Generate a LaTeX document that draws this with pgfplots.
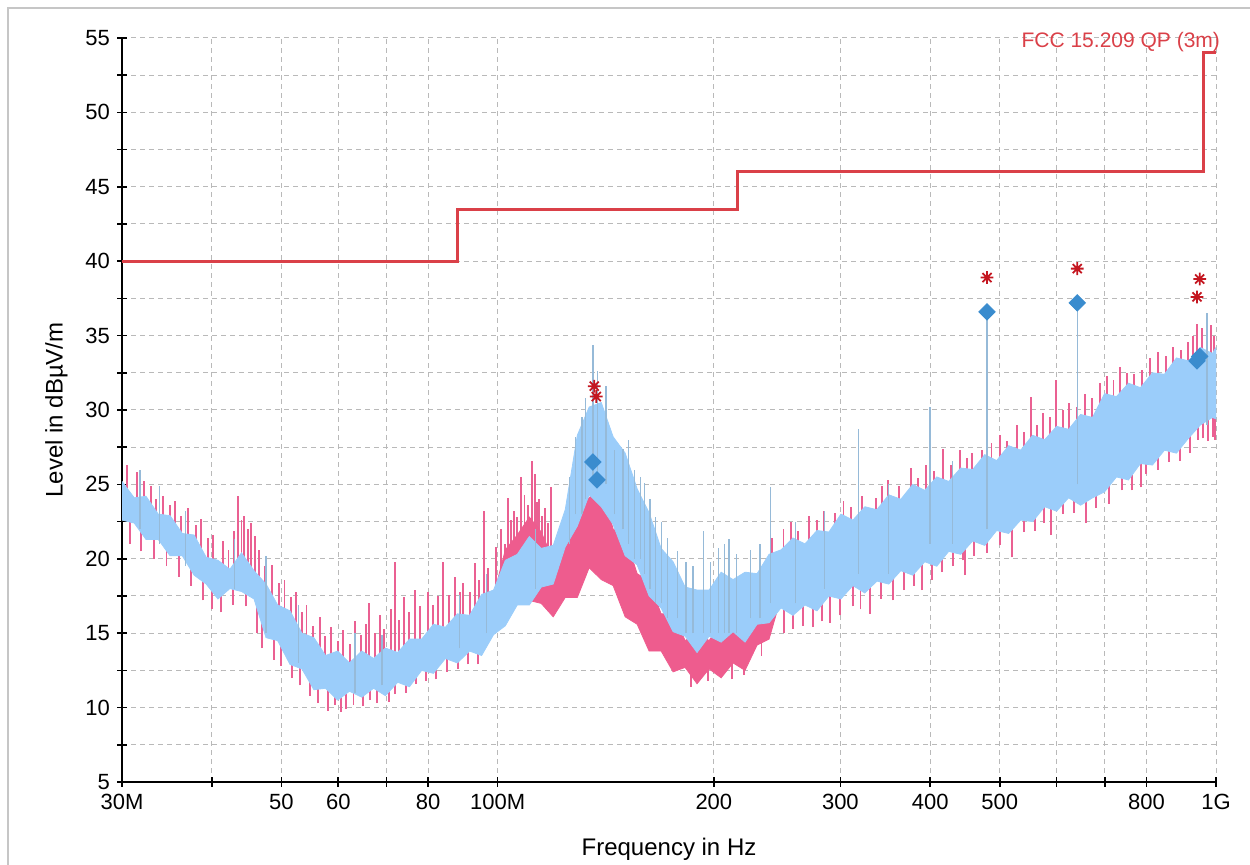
\documentclass[border=0pt]{standalone}
\usepackage{fontspec}
\setmainfont{Liberation Sans}
\usepackage{pgfplots}
\pgfplotsset{compat=1.18}
\usepackage{pgfplotstable}

\definecolor{pinkc}{RGB}{238,92,142}
\definecolor{pinks}{RGB}{234,96,146}
\definecolor{bluec}{RGB}{155,205,250}
\definecolor{blues}{RGB}{150,186,216}
\definecolor{diac}{RGB}{58,140,206}
\definecolor{astc}{RGB}{196,22,32}
\definecolor{limc}{RGB}{218,64,72}
\definecolor{gridc}{RGB}{185,185,185}

% eight-armed asterisk for the QP readings
\pgfdeclareplotmark{ast8}{%
  \pgfpathmoveto{\pgfqpoint{-\pgfplotmarksize}{0pt}}\pgfpathlineto{\pgfqpoint{\pgfplotmarksize}{0pt}}%
  \pgfpathmoveto{\pgfqpoint{0pt}{-\pgfplotmarksize}}\pgfpathlineto{\pgfqpoint{0pt}{\pgfplotmarksize}}%
  \pgfpathmoveto{\pgfqpoint{-.707\pgfplotmarksize}{-.707\pgfplotmarksize}}\pgfpathlineto{\pgfqpoint{.707\pgfplotmarksize}{.707\pgfplotmarksize}}%
  \pgfpathmoveto{\pgfqpoint{-.707\pgfplotmarksize}{.707\pgfplotmarksize}}\pgfpathlineto{\pgfqpoint{.707\pgfplotmarksize}{-.707\pgfplotmarksize}}%
  \pgfusepathqstroke}

% pink scan where it stands apart from the blue one (95-245 MHz):
% upper envelope left to right, then lower envelope back
\pgfplotstableread{
f L
95 17.0
98.7 17.5
102.5 20.6
106.5 21.6
110.7 22.8
115 21.8
119.5 19.9
124.2 21.0
129.1 23.5
134.1 24.1
139.4 25.0
144.8 22.0
150.5 21.5
156.4 19.0
162.5 18.5
168.9 16.3
175.5 16.3
182.4 14.5
189.5 15.0
197 14.5
204.7 15.7
212.7 15.1
221 16.5
229.7 16.7
238.7 18.0
245 17.0
245 16.5
238.7 14.6
229.7 14.2
221 12.5
212.7 13.0
204.7 12.0
197 12.6
189.5 11.6
182.4 12.7
175.5 12.4
168.9 13.8
162.5 13.8
156.4 15.6
150.5 16.1
144.8 18.2
139.4 18.6
134.1 19.4
129.1 17.4
124.2 17.4
119.5 16.1
115 17.0
110.7 17.2
106.5 17.0
102.5 16.0
98.7 15.2
95 14.0
}\pinkband

% blue scan: upper envelope left to right, then lower envelope back
\pgfplotstableread{
f L
30 25.2
31.2 24.1
32.4 24.2
33.7 23.0
35 22.9
36.4 21.7
37.8 21.6
39.3 20.1
40.8 19.9
42.4 19.3
44 20.4
45.8 19.2
47.6 18.3
49.4 16.9
51.4 16.5
53.4 15.0
55.5 14.7
57.6 13.5
59.9 13.8
62.2 13.0
64.7 13.8
67.2 13.3
69.8 14.0
72.6 13.7
75.4 14.6
78.4 14.6
81.4 15.6
84.6 15.4
87.9 16.3
91.4 16.2
95 17.6
98.7 17.9
102.5 19.9
106.5 20.3
110.7 21.5
115 20.7
119.5 20.9
124.2 23.3
129.1 28.3
134.1 30.2
139.4 30.5
144.8 28.2
150.5 27.1
156.4 24.7
162.5 23.1
168.9 20.7
175.5 19.8
182.4 18.1
189.5 17.9
197 17.9
204.7 19.1
212.7 18.6
221 19.1
229.7 19.0
238.7 20.3
248 20.6
257.7 21.4
267.8 21.0
278.3 21.9
289.2 21.8
300.5 23.0
312.3 22.6
324.5 23.5
337.2 23.3
350.4 24.3
364.1 24.0
378.4 25.0
393.2 24.6
408.6 25.5
424.6 25.2
441.2 26.1
458.5 26.0
476.5 27.0
495.1 26.6
514.5 27.6
534.7 27.3
555.6 28.3
577.4 28.0
600 28.9
623.5 28.7
647.9 29.7
673.3 29.5
699.6 31.1
727 30.9
755.5 31.8
785.1 31.5
815.8 32.5
847.8 32.4
881 33.5
915.5 33.3
951.3 34.2
988.6 33.8
1000 34.2
1000 29.4
988.6 29.5
951.3 29.0
915.5 28.1
881 27.1
847.8 27.3
815.8 26.3
785.1 26.4
755.5 25.3
727 25.5
699.6 24.5
673.3 24.1
647.9 23.6
623.5 24.1
600 23.2
577.4 23.5
555.6 22.5
534.7 22.6
514.5 21.7
495.1 21.9
476.5 20.9
458.5 21.2
441.2 20.3
424.6 20.5
408.6 19.5
393.2 19.8
378.4 18.9
364.1 19.2
350.4 18.3
337.2 18.5
324.5 17.7
312.3 18.2
300.5 17.3
289.2 17.5
278.3 16.5
267.8 16.9
257.7 16.2
248 16.7
238.7 15.7
229.7 15.6
221 14.4
212.7 15.1
204.7 14.4
197 14.8
189.5 13.7
182.4 14.8
175.5 15.1
168.9 16.7
162.5 17.5
156.4 19.6
150.5 20.2
144.8 22.3
139.4 23.5
134.1 24.3
129.1 22.2
124.2 20.8
119.5 18.3
115 18.1
110.7 16.9
106.5 16.9
102.5 15.5
98.7 14.9
95 13.5
91.4 13.8
87.9 13.0
84.6 13.3
81.4 12.3
78.4 12.5
75.4 11.4
72.6 11.7
69.8 10.8
67.2 11.3
64.7 10.7
62.2 11.1
59.9 10.5
57.6 11.3
55.5 11.2
53.4 12.6
51.4 12.9
49.4 14.5
47.6 14.7
45.8 17.3
44 17.8
42.4 18.0
40.8 17.3
39.3 18.3
37.8 18.9
36.4 20.2
35 20.2
33.7 21.3
32.4 21.3
31.2 22.4
30 22.6
}\blueband

% single spikes of the pink scan: foot, tip, break
\pgfplotstableread{
f L
30.5 24
30.5 26.3
30.5 nan
30.8 21.0
30.8 23
30.8 nan
31.5 23
31.5 25.8
31.5 nan
31.9 20.5
31.9 22.5
31.9 nan
32.2 23
32.2 25.2
32.2 nan
32.9 22
32.9 24.9
32.9 nan
33.2 20.0
33.2 22
33.2 nan
33.5 22
33.5 24.0
33.5 nan
34.2 21.5
34.2 24.2
34.2 nan
34.6 19.5
34.6 21.5
34.6 nan
35.0 21.5
35.0 23.6
35.0 nan
35.6 21
35.6 23.9
35.6 nan
36.0 18.8
36.0 21
36.0 nan
36.2 21
36.2 22.9
36.2 nan
37.1 20
37.1 23.4
37.1 nan
37.4 18.2
37.4 20
37.4 nan
38.0 20
38.0 22.3
38.0 nan
38.6 19
38.6 22.7
38.6 nan
38.9 17.2
38.9 19
38.9 nan
39.5 19
39.5 21.4
39.5 nan
40.0 16.6
40.0 18
40.0 nan
40.2 18.5
40.2 21.6
40.2 nan
41.2 16.4
41.2 18
41.2 nan
41.5 18.5
41.5 21.2
41.5 nan
42.2 18.5
42.2 20.6
42.2 nan
42.8 16.9
42.8 18.5
42.8 nan
43.0 19
43.0 21.9
43.0 nan
43.5 19
43.5 24.2
43.5 nan
44.0 19
44.0 22.6
44.0 nan
44.4 19
44.4 22.9
44.4 nan
44.6 16.8
44.6 18.5
44.6 nan
44.9 19
44.9 22.0
44.9 nan
45.3 18.5
45.3 22.4
45.3 nan
45.9 18
45.9 21.5
45.9 nan
46.2 15.0
46.2 17
46.2 nan
46.6 17
46.6 20.6
46.6 nan
47.0 14.0
47.0 16
47.0 nan
47.4 16.5
47.4 19.5
47.4 nan
48.5 16
48.5 19.6
48.5 nan
48.8 13.2
48.8 15
48.8 nan
49.6 15.5
49.6 18.4
49.6 nan
50.0 12.8
50.0 14.5
50.0 nan
50.5 15
50.5 18.6
50.5 nan
51.5 15
51.5 17.4
51.5 nan
51.8 12.0
51.8 13.5
51.8 nan
52.4 14
52.4 17.8
52.4 nan
53.0 11.5
53.0 13
53.0 nan
53.4 14
53.4 16.4
53.4 nan
54.2 13.5
54.2 16.9
54.2 nan
54.8 10.8
54.8 12.5
54.8 nan
55.4 13
55.4 15.5
55.4 nan
56.2 10.3
56.2 12
56.2 nan
56.6 12.5
56.6 16.1
56.6 nan
57.5 12.5
57.5 14.8
57.5 nan
58.0 9.8
58.0 11.5
58.0 nan
58.7 12.5
58.7 15.4
58.7 nan
59.3 10.2
59.3 11.5
59.3 nan
60.0 12.5
60.0 14.5
60.0 nan
60.6 9.7
60.6 11.5
60.6 nan
61.0 12
61.0 15.2
61.0 nan
61.5 9.9
61.5 11.5
61.5 nan
62.3 12
62.3 14.3
62.3 nan
63.0 10.2
63.0 11.5
63.0 nan
63.3 12
63.3 15.8
63.3 nan
64.5 12
64.5 14.9
64.5 nan
65.0 10.1
65.0 11.5
65.0 nan
65.5 12
65.5 15.6
65.5 nan
66.3 12
66.3 17.0
66.3 nan
66.5 10.5
66.5 12
66.5 nan
67.5 12
67.5 15.0
67.5 nan
68.0 10.3
68.0 12
68.0 nan
68.5 12
68.5 16.2
68.5 nan
69.5 12.5
69.5 15.3
69.5 nan
70.5 10.4
70.5 12
70.5 nan
71.0 12.5
71.0 16.6
71.0 nan
71.9 12.5
71.9 19.8
71.9 nan
72.0 10.9
72.0 12.5
72.0 nan
73.0 13
73.0 15.9
73.0 nan
74.0 13
74.0 17.4
74.0 nan
74.5 11.0
74.5 12.5
74.5 nan
75.3 13
75.3 16.4
75.3 nan
76.8 13.5
76.8 17.9
76.8 nan
77.0 11.6
77.0 13
77.0 nan
78.0 13.5
78.0 16.8
78.0 nan
79.5 11.8
79.5 13
79.5 nan
80.0 14
80.0 17.8
80.0 nan
81.2 14
81.2 16.9
81.2 nan
82.0 11.9
82.0 13.5
82.0 nan
82.5 14
82.5 17.5
82.5 nan
83.9 14
83.9 19.8
83.9 nan
85.0 12.4
85.0 14
85.0 nan
85.5 14.5
85.5 17.6
85.5 nan
87.3 15
87.3 18.8
87.3 nan
88.0 12.6
88.0 14
88.0 nan
88.6 15
88.6 17.8
88.6 nan
89.6 15
89.6 18.4
89.6 nan
91.0 12.9
91.0 14.5
91.0 nan
91.5 15
91.5 17.8
91.5 nan
93.0 15.5
93.0 19.7
93.0 nan
94.0 12.9
94.0 14.5
94.0 nan
94.3 16
94.3 18.6
94.3 nan
95.6 16
95.6 23.2
95.6 nan
97.0 16.5
97.0 19.4
97.0 nan
99.5 17
99.5 20.8
99.5 nan
101.2 18
101.2 22.0
101.2 nan
102.5 18
102.5 21.0
102.5 nan
103.5 18
103.5 24.1
103.5 nan
104.3 19
104.3 22.6
104.3 nan
105.3 19
105.3 23.2
105.3 nan
106.5 19
106.5 22.8
106.5 nan
107.8 19
107.8 25.5
107.8 nan
109.0 19
109.0 24.3
109.0 nan
110.2 19
110.2 23.6
110.2 nan
111.6 19
111.6 26.6
111.6 nan
112.6 19
112.6 25.7
112.6 nan
113.5 19
113.5 23.8
113.5 nan
114.2 19
114.2 24.0
114.2 nan
115.3 19
115.3 22.9
115.3 nan
116.5 19
116.5 23.4
116.5 nan
117.5 19
117.5 22.4
117.5 nan
118.5 19
118.5 24.8
118.5 nan
186 11.4
186 13.5
186 nan
196 11.8
196 13.5
196 nan
212 11.9
212 13.5
212 nan
220 12.2
220 14.0
220 nan
233 13.5
233 15.5
233 nan
241 19.0
241 21.4
241 nan
250 19.5
250 22.0
250 nan
250.5 15.0
250.5 17
250.5 nan
256 20
256 22.5
256 nan
258 15.3
258 17
258 nan
262 20
262 21.9
262 nan
266 15.5
266 17
266 nan
271 20
271 22.9
271 nan
275 15.4
275 17
275 nan
278 20.5
278 22.6
278 nan
283 15.8
283 17.5
283 nan
285 20.5
285 23.2
285 nan
290 15.7
290 17.5
290 nan
295 21
295 23.1
295 nan
300 16.2
300 18
300 nan
303 21.5
303 23.9
303 nan
310 21.5
310 23.5
310 nan
312 16.8
312 18.5
312 nan
320 16.6
320 18.5
320 nan
322 22
322 24.2
322 nan
330 16.3
330 18.5
330 nan
336 22
336 24.1
336 nan
342 17.3
342 19
342 nan
343 22.5
343 24.9
343 nan
350 23
350 25.3
350 nan
355 17.2
355 19
355 nan
362 23
362 24.9
362 nan
368 17.9
368 19.5
368 nan
376 23.5
376 26.1
376 nan
380 18.2
380 19.5
380 nan
385 23.5
385 25.4
385 nan
390 17.9
390 20
390 nan
395 23.5
395 26.3
395 nan
402 18.6
402 20
402 nan
405 24
405 25.9
405 nan
415 19.1
415 20.5
415 nan
417 24
417 27.4
417 nan
428 24
428 26.3
428 nan
430 19.5
430 21
430 nan
440 24.5
440 27.3
440 nan
444 19.9
444 21
444 nan
447 18.9
447 21
447 nan
450 25
450 26.8
450 nan
458 25
458 27.1
458 nan
460 20.2
460 21.5
460 nan
472 25.5
472 27.3
472 nan
480 20.4
480 22
480 nan
487 25.5
487 27.8
487 nan
500 26
500 28.3
500 nan
501 20.9
501 22.5
501 nan
512 26
512 27.9
512 nan
520 20.1
520 22.5
520 nan
528 26.5
528 29.0
528 nan
540 26.5
540 28.5
540 nan
541 21.8
541 23
541 nan
552 27
552 30.9
552 nan
560 21.9
560 23.5
560 nan
563 27
563 29.0
563 nan
575 27
575 29.8
575 nan
576 22.4
576 24
576 nan
587 27.5
587 29.5
587 nan
590 21.6
590 24
590 nan
599 27.5
599 32.0
599 nan
612 28
612 30.0
612 nan
613 23.0
613 24.5
613 nan
625 28
625 30.5
625 nan
635 23.1
635 24.5
635 nan
640 28.5
640 30.2
640 nan
657 28.5
657 31.1
657 nan
660 22.4
660 24.5
660 nan
672 29
672 30.8
672 nan
680 23.4
680 25
680 nan
690 29.5
690 31.8
690 nan
705 30
705 32.3
705 nan
710 23.7
710 25.5
710 nan
720 30
720 32.0
720 nan
736 30
736 32.9
736 nan
740 24.6
740 26
740 nan
752 30.5
752 32.5
752 nan
765 24.6
765 26.5
765 nan
770 30.5
770 32.4
770 nan
787 24.8
787 27
787 nan
790 31
790 32.7
790 nan
800 25.7
800 27
800 nan
810 31.5
810 33.5
810 nan
830 31.5
830 33.9
830 nan
831 26.0
831 27.5
831 nan
852 32
852 33.6
852 nan
860 26.5
860 28
860 nan
872 32
872 34.2
872 nan
890 26.6
890 28
890 nan
894 32.5
894 34.0
894 nan
915 32.5
915 34.6
915 nan
920 27.1
920 28.5
920 nan
930 33
930 35.0
930 nan
941 33
941 35.8
941 nan
945 28.0
945 29.5
945 nan
957 33
957 35.5
957 nan
960 28.1
960 29.8
960 nan
970 33
970 34.8
970 nan
975 27.9
975 29.8
975 nan
985 33
985 35.7
985 nan
990 28.2
990 30
990 nan
995 33
995 35.0
995 nan
998 28.0
998 30
998 nan
}\pinkspikes

% single spikes of the blue scan
\pgfplotstableread{
f L
31.8 22
31.8 26.0
31.8 nan
33.8 21
33.8 24.9
33.8 nan
36.8 19.5
36.8 23.2
36.8 nan
43.0 18
43.0 21.3
43.0 nan
47.6 15
47.6 20.2
47.6 nan
52.8 13
52.8 16.9
52.8 nan
63.3 11
63.3 15.0
63.3 nan
69.0 11.5
69.0 14.9
69.0 nan
88.5 14
88.5 17.6
88.5 nan
96.5 15
96.5 19.0
96.5 nan
113 18
113 22.0
113 nan
126 21
126 25.5
126 nan
128.4 23
128.4 28.2
128.4 nan
131 23
131 29.5
131 nan
132.5 24
132.5 30.8
132.5 nan
135.8 25
135.8 34.4
135.8 nan
137.6 25
137.6 32.6
137.6 nan
141.5 25
141.5 31.6
141.5 nan
145.5 23
145.5 27.3
145.5 nan
149.5 22
149.5 27.4
149.5 nan
152 21
152 28.0
152 nan
155 20
155 26.0
155 nan
158 20
158 25.5
158 nan
160.0 19
160.0 25.1
160.0 nan
163 18
163 24.0
163 nan
166.0 17
166.0 22.8
166.0 nan
169 17
169 22.5
169 nan
172.5 16
172.5 21.4
172.5 nan
178 16
178 20.5
178 nan
183 15
183 19.8
183 nan
187 15
187 19.5
187 nan
193.5 15
193.5 21.9
193.5 nan
198 15
198 19.8
198 nan
203.0 15
203.0 20.7
203.0 nan
207 15
207 21.0
207 nan
210.0 15
210.0 21.3
210.0 nan
215 15
215 20.3
215 nan
225 16
225 20.6
225 nan
232 16
232 21.0
232 nan
240.0 17
240.0 24.8
240.0 nan
260.0 17
260.0 22.5
260.0 nan
285 18
285 23.2
285 nan
318.0 19
318.0 28.7
318.0 nan
350 19
350 25.0
350 nan
400.0 21
400.0 30.2
400.0 nan
430 21
430 26.6
430 nan
480.0 22
480.0 36.6
480.0 nan
641.0 25
641.0 37.2
641.0 nan
972.0 29
972.0 36.5
972.0 nan
}\bluespikes

\begin{document}
\begin{tikzpicture}
\path[use as bounding box] (-61pt,-41.5pt) rectangle (564pt,391pt);
\begin{axis}[
  at={(0,0)}, anchor=south west,
  scale only axis, width=547pt, height=372pt,
  xmode=log, xmin=30, xmax=1000, ymin=5, ymax=55,
  axis x line=bottom, axis y line=left,
  axis line style={-, line width=0.8pt, black},
  xtick={30,40,50,60,70,80,100,200,300,400,500,600,700,800,1000},
  xticklabels={30M,,50,60,,80,100M,200,300,400,500,,,800,1G},
  ytick={5,10,...,55},
  minor ytick={7.5,12.5,...,52.5},
  tick align=center,
  major tick length=5pt, minor tick length=5pt,
  tick style={black, line width=0.8pt},
  xmajorgrids, ymajorgrids, yminorgrids,
  grid style={gridc, line width=0.5pt, dash pattern=on 2.5pt off 2pt},
  minor grid style={gridc, line width=0.5pt, dash pattern=on 2.5pt off 2pt},
  /pgf/number format/assume math mode=true,
  tick label style={font=\fontsize{11}{13}\selectfont},
  label style={font=\fontsize{12}{14}\selectfont},
  xlabel={Frequency in Hz},
  ylabel={Level in dBµV/m},
  xlabel style={at={(axis description cs:0.5,-0.091)}, anchor=center},
  ylabel style={at={(axis description cs:-0.060,0.5)}, anchor=center},
  unbounded coords=jump,
  clip mode=individual,
]
% pink scan
\addplot[pinks, line width=0.95pt] table[x=f, y=L] \pinkspikes;
\addplot[fill=pinkc, draw=pinkc, line width=0.4pt] table[x=f, y=L] \pinkband;
% blue scan
\addplot[fill=bluec, draw=bluec, line width=0.4pt] table[x=f, y=L] \blueband;
\addplot[blues, line width=0.7pt] table[x=f, y=L] \bluespikes;
% limit line
\addplot[limc, line width=1.5pt, const plot] coordinates {
  (30,40)(88,43.5)(216,46)(960,54)(1000,54)};
% final readings
\addplot[only marks, mark=square*, mark size=2.9pt,
  mark options={rotate=45, fill=diac, draw=diac}] coordinates {
  (135.7,26.5)(137.5,25.3)(480,36.6)(641,37.2)(941,33.3)(949,33.6)};
\addplot[only marks, mark=ast8, mark size=3.2pt,
  mark options={draw=astc, line width=0.9pt}] coordinates {
  (136.3,31.6)(137.2,30.9)(480,38.9)(641,39.5)(941,37.6)(949,38.8)};
\node[anchor=base east, inner sep=0pt, text=limc, font=\fontsize{10.5}{12}\selectfont]
  at (rel axis cs:1.004,0.9866) {FCC 15.209 QP (3m)};
\end{axis}
\draw[gray!45, line width=1pt] (-57pt,-41.5pt) -- (-57pt,387pt) -- (564pt,387pt);
\end{tikzpicture}
\end{document}
